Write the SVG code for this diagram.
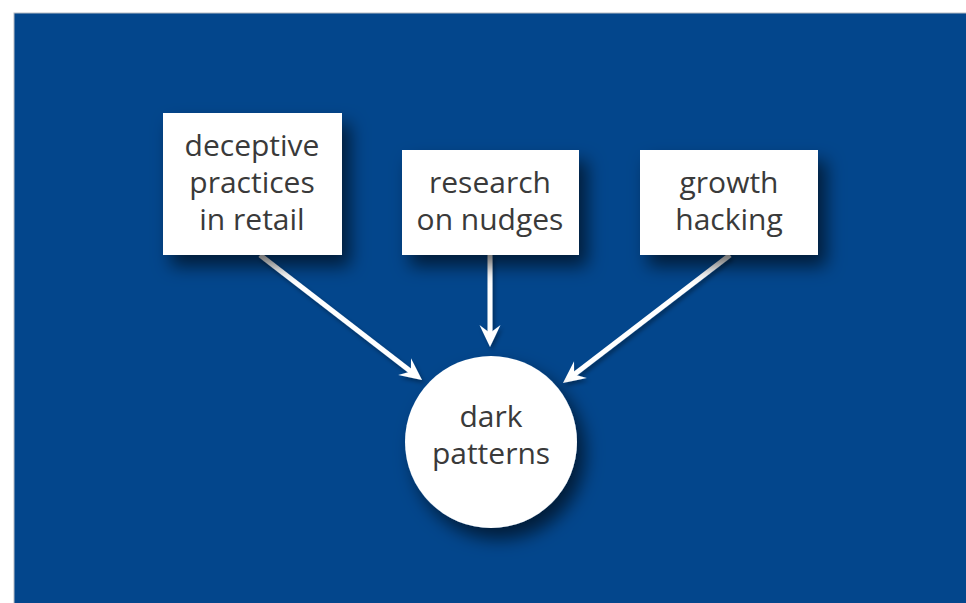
<svg xmlns="http://www.w3.org/2000/svg" width="966" height="603" viewBox="0 0 966 603">
  <defs>
    <filter id="shadow" x="-30%" y="-30%" width="170%" height="170%">
      <feDropShadow dx="8" dy="11" stdDeviation="9" flood-color="#000" flood-opacity="0.6"/>
    </filter>
    <filter id="lshadow" x="-20%" y="-20%" width="140%" height="140%">
      <feDropShadow dx="2" dy="3" stdDeviation="2" flood-color="#000" flood-opacity="0.35"/>
    </filter>
    <marker id="arrow" markerUnits="userSpaceOnUse" markerWidth="26" markerHeight="26" viewBox="-13 -13 26 26" refX="0" refY="0" orient="auto">
      <path d="M10,0 L-12,-10.5 L-4,0 L-12,10.5 Z" fill="#ffffff"/>
    </marker>
    <style>
      .box { fill: #ffffff; filter: url(#shadow); }
      .lbl { font-family: "Open Sans", "Noto Sans", sans-serif; font-size: 30px; fill: #3a3a3a; text-anchor: middle; }
      .conn { stroke: #ffffff; stroke-width: 5; fill: none; marker-end: url(#arrow); }
    </style>
  </defs>
  <rect x="0" y="0" width="966" height="603" fill="#ffffff"/>
  <rect x="14" y="13" width="960" height="600" fill="#03468c" stroke="#b8bcc4" stroke-width="1"/>

  <g id="connectors" filter="url(#lshadow)">
    <line class="conn" x1="260" y1="255" x2="414.1" y2="373.9"/>
    <line class="conn" x1="490" y1="255" x2="490" y2="337"/>
    <line class="conn" x1="730" y1="255" x2="570.9" y2="376.9"/>
  </g>

  <g id="node-deceptive">
    <rect class="box" x="163" y="113" width="179" height="142"/>
    <text class="lbl" x="252" y="156">deceptive</text>
    <text class="lbl" x="252" y="193">practices</text>
    <text class="lbl" x="252" y="230">in retail</text>
  </g>
  <g id="node-research">
    <rect class="box" x="402" y="150" width="177" height="105"/>
    <text class="lbl" x="490" y="193">research</text>
    <text class="lbl" x="490" y="230">on nudges</text>
  </g>
  <g id="node-growth">
    <rect class="box" x="640" y="150" width="178" height="105"/>
    <text class="lbl" x="729" y="193">growth</text>
    <text class="lbl" x="729" y="230">hacking</text>
  </g>
  <g id="node-dark">
    <circle class="box" cx="491" cy="442" r="86"/>
    <text class="lbl" x="491" y="427">dark</text>
    <text class="lbl" x="491" y="464">patterns</text>
  </g>
</svg>
